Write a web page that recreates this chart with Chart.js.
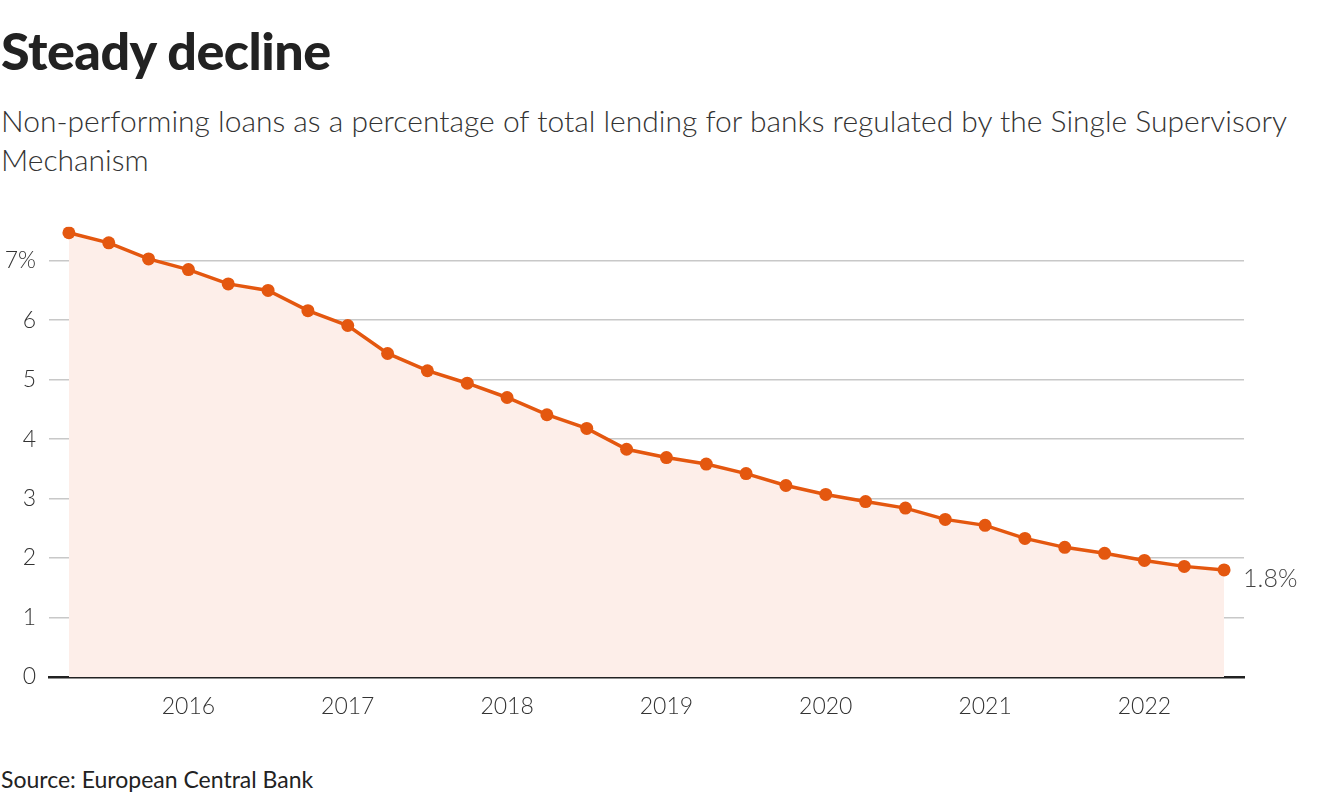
<!DOCTYPE html>
<html>
<head>
<meta charset="utf-8">
<script src="https://cdn.jsdelivr.net/npm/chart.js@4"></script>
<style>
  body { margin: 0; background: #fff; width: 1320px; height: 800px; position: relative; overflow: hidden; font-family: "Lato", sans-serif; }
  h1 { position: absolute; left: 1px; top: 20px; margin: 0; font-size: 52px; font-weight: 900; color: #222; letter-spacing: -0.5px; line-height: 60px; }
  .sub { position: absolute; left: 1px; top: 101px; margin: 0; width: 1310px; font-size: 30px; font-weight: 300; line-height: 39px; color: #333; }
  .src { position: absolute; left: 1px; top: 765px; margin: 0; font-size: 23px; color: #222; }
  .chart-container { position: absolute; left: 0; top: 200px; width: 1320px; height: 537px; }
</style>
</head>
<body>
<h1>Steady decline</h1>
<p class="sub">Non-performing loans as a percentage of total lending for banks regulated by the Single Supervisory Mechanism</p>
<div class="chart-container"><canvas id="chart"></canvas></div>
<p class="src">Source: European Central Bank</p>
<script>
// quarterly, 2015 Q2 - 2022 Q3
const quarters = [
  "2015 Q2", "2015 Q3", "2015 Q4",
  "2016 Q1", "2016 Q2", "2016 Q3", "2016 Q4",
  "2017 Q1", "2017 Q2", "2017 Q3", "2017 Q4",
  "2018 Q1", "2018 Q2", "2018 Q3", "2018 Q4",
  "2019 Q1", "2019 Q2", "2019 Q3", "2019 Q4",
  "2020 Q1", "2020 Q2", "2020 Q3", "2020 Q4",
  "2021 Q1", "2021 Q2", "2021 Q3", "2021 Q4",
  "2022 Q1", "2022 Q2", "2022 Q3"
];
const nplRatio = [
  7.47, 7.30, 7.03, 6.85, 6.61, 6.50, 6.16, 5.91, 5.44, 5.15,
  4.94, 4.70, 4.41, 4.18, 3.83, 3.69, 3.58, 3.42, 3.22, 3.07,
  2.95, 2.84, 2.65, 2.55, 2.33, 2.18, 2.08, 1.96, 1.86, 1.80
];
const yTicks = [0, 1, 2, 3, 4, 5, 6, 7];
const lastLabel = "1.8%";

const orange = "#e4570f";
const tickFont = { family: "Lato", size: 23, weight: 300 };

// label next to the last point
const endLabel = {
  id: "endLabel",
  afterDatasetsDraw(chart) {
    const meta = chart.getDatasetMeta(0);
    const pt = meta.data[meta.data.length - 1];
    const ctx = chart.ctx;
    ctx.save();
    ctx.font = "300 25px Lato";
    ctx.fillStyle = "#444";
    ctx.textAlign = "left";
    ctx.textBaseline = "middle";
    ctx.fillText(lastLabel, pt.x + 19, pt.y + 9);
    ctx.restore();
  }
};

new Chart(document.getElementById("chart"), {
  type: "line",
  data: {
    labels: quarters,
    datasets: [{
      data: nplRatio,
      borderColor: orange,
      borderWidth: 3.5,
      backgroundColor: "#fdeee9",
      fill: "origin",
      tension: 0,
      pointRadius: 6.5,
      pointHoverRadius: 6.5,
      pointBackgroundColor: orange,
      pointBorderWidth: 0
    }]
  },
  options: {
    responsive: true,
    maintainAspectRatio: false,
    animation: false,
    layout: { padding: { left: 0, right: 76, top: 10, bottom: 0 } },
    plugins: { legend: { display: false }, tooltip: { enabled: false } },
    scales: {
      x: {
        type: "category",
        offset: true,
        grid: { display: false, drawTicks: false },
        border: { display: true, color: "#222", width: 2.5 },
        afterFit: (s) => { s.height = 60; },
        ticks: {
          autoSkip: false,
          maxRotation: 0,
          padding: 16,
          color: "#333",
          font: tickFont,
          callback: function (v) {
            const l = this.getLabelForValue(v);
            return l.endsWith("Q1") ? l.slice(0, 4) : "";
          }
        }
      },
      y: {
        min: 0,
        max: 7.57,
        afterBuildTicks: (s) => { s.ticks = yTicks.map((v) => ({ value: v })); },
        afterFit: (s) => { s.width = 49; },
        grid: { color: "#c8c8c8", lineWidth: 1.5, drawTicks: false },
        border: { display: false },
        ticks: {
          padding: 13,
          color: "#333",
          font: tickFont,
          callback: (v) => (v === 7 ? v + "%" : v)
        }
      }
    }
  },
  plugins: [endLabel]
});
</script>
</body>
</html>
